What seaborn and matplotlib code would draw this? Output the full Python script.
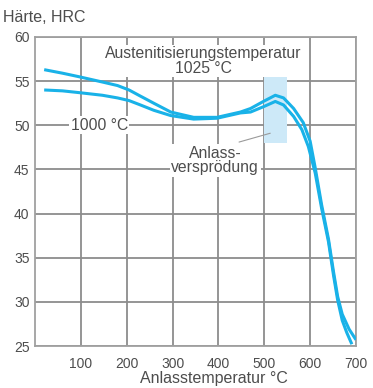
import matplotlib
matplotlib.use("Agg")
import matplotlib.pyplot as plt
import seaborn as sns
import pandas as pd
from matplotlib.patches import Rectangle

# Data
temp_1025 = [20, 60, 96, 147, 180, 205, 230, 259, 296, 346, 397, 448, 470, 498, 524, 542, 564, 585, 600,
             611, 625, 640, 651, 660, 670, 685, 700]
hrc_1025 = [56.3, 55.9, 55.5, 54.9, 54.5, 54.0, 53.3, 52.5, 51.5, 50.9, 50.9, 51.5, 51.9, 52.7, 53.4, 53.1,
            51.9, 50.3, 48.2, 45.2, 41.0, 37.1, 33.4, 30.6, 28.6, 26.9, 25.7]
temp_1000 = [20, 60, 96, 147, 180, 205, 230, 259, 296, 346, 397, 448, 470, 498, 524, 542, 564, 582, 596,
             611, 625, 640, 651, 660, 670, 680, 691]
hrc_1000 = [54.0, 53.9, 53.7, 53.4, 53.1, 52.8, 52.3, 51.7, 51.1, 50.7, 50.8, 51.4, 51.5, 52.1, 52.7, 52.3,
            51.0, 49.5, 47.6, 44.6, 40.6, 36.8, 33.0, 30.2, 27.9, 26.5, 25.2]
x_ticks = [100, 200, 300, 400, 500, 600, 700]
y_ticks = [25, 30, 35, 40, 45, 50, 55, 60]
brittle_range = (500, 550)
brittle_hrc = (48, 55.7)

sns.set_theme(style="white")
plt.rcParams['font.family'] = ['Liberation Sans', 'DejaVu Sans']

txt = '#4d4d4d'
grid_c = '#8c8c8c'
line_c = '#19b2e8'

fig = plt.figure(figsize=(3.73, 3.88), dpi=100)
ax = fig.add_axes([35/373, 1-346/388, (356-35)/373, (346-37)/388])

df1 = pd.DataFrame({'T': temp_1025, 'HRC': hrc_1025})
df2 = pd.DataFrame({'T': temp_1000, 'HRC': hrc_1000})

ax.add_patch(Rectangle((brittle_range[0], brittle_hrc[0]), brittle_range[1]-brittle_range[0],
                       brittle_hrc[1]-brittle_hrc[0], facecolor='#cde9f8', edgecolor='none', zorder=1))

for d in (df1, df2):
    sns.lineplot(data=d, x='T', y='HRC', ax=ax, color=line_c, linewidth=2.2, sort=False, zorder=4,
                 solid_joinstyle='round', solid_capstyle='butt')

ax.set_xlim(0, 700)
ax.set_ylim(25, 60)
ax.set_xticks(x_ticks)
ax.set_yticks(y_ticks)
ax.grid(True, color=grid_c, linewidth=1.3, zorder=0)
ax.set_axisbelow(True)
for s in ax.spines.values():
    s.set_color('#a0a0a0')
    s.set_linewidth(1.3)
ax.tick_params(axis='both', length=0, labelsize=10, labelcolor=txt)
ax.tick_params(axis='x', pad=8)
ax.tick_params(axis='y', pad=4)
ax.set_xlabel('')
ax.set_ylabel('')

fig.text(3/373, 1-18/388, 'Härte, HRC', fontsize=11.5, color=txt, ha='left', va='center')
fig.text(214/373, 1-378/388, 'Anlasstemperatur °C', fontsize=11.5, color=txt, ha='center', va='center')

bb = dict(facecolor='white', edgecolor='none', pad=1.0)
ax.text(367, 57.3, 'Austenitisierungstemperatur\n1025 °C', fontsize=11.3, color=txt,
        ha='center', va='center', linespacing=0.95, bbox=bb, zorder=3)
ax.text(140, 50, '1000 °C', fontsize=11.3, color=txt, ha='center', va='center', bbox=bb, zorder=3)
ax.text(393, 46.0, 'Anlass-\nversprödung', fontsize=11.3, color=txt, ha='center', va='center',
        linespacing=0.95, bbox=bb, zorder=3)
ax.plot([445, 513], [48.1, 49.1], color='#9a9a9a', linewidth=0.8, zorder=3)

fig.savefig('out.png', dpi=100)
